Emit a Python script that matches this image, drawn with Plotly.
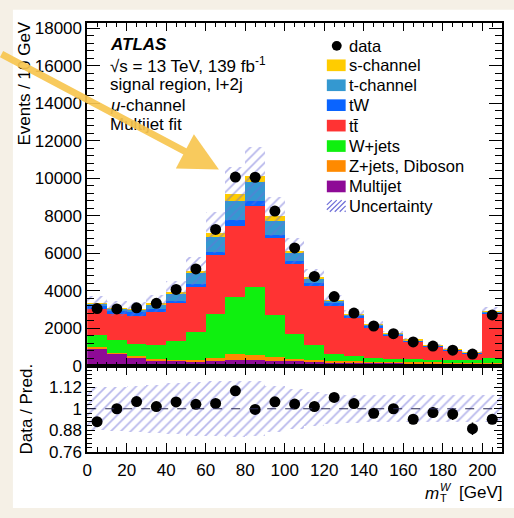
import numpy as np
import plotly.graph_objects as go

# ---------------- data ----------------
bin_edges = list(range(0, 220, 10))
bin_centers = [e + 5 for e in bin_edges[:-1]]
data = [3060, 3040, 3100, 3340, 4080, 5170, 7280, 10070, 10060, 8260, 6290,
        4770, 3700, 2820, 2130, 1720, 1280, 1060, 840, 635, 2720]
multijet = [880, 620, 450, 280, 250, 230, 240, 310, 300, 250, 240,
            200, 180, 160, 150, 140, 130, 130, 120, 110, 100]
zjets = [100, 60, 70, 60, 60, 80, 170, 280, 260, 200, 120,
         90, 70, 60, 50, 40, 40, 35, 30, 30, 40]
wjets = [630, 670, 620, 730, 970, 1470, 2320, 3060, 3640, 2250, 1340,
         810, 370, 260, 200, 160, 150, 145, 150, 140, 250]
ttbar = [1400, 1380, 1520, 1800, 2060, 2430, 3170, 3800, 4290, 4080, 3700,
         3150, 2550, 2070, 1630, 1270, 950, 700, 500, 380, 2380]
tw = [150, 170, 170, 130, 120, 135, 170, 310, 260, 200, 180,
      170, 140, 100, 80, 60, 50, 40, 40, 35, 70]
tchan = [120, 120, 130, 270, 400, 560, 780, 1010, 1040, 750, 430,
         230, 140, 70, 60, 40, 30, 25, 20, 15, 40]
schan = [20, 20, 20, 30, 70, 140, 220, 380, 310, 220, 120,
         60, 30, 20, 15, 10, 10, 8, 6, 5, 10]
unc_rel = [0.12, 0.125, 0.13, 0.136, 0.143, 0.15, 0.155, 0.158, 0.155, 0.13, 0.113,
           0.095, 0.085, 0.078, 0.075, 0.075, 0.075, 0.075, 0.075, 0.075, 0.075]

components = [
    ("Multijet", multijet, "#8e0a96"),
    ("Z+jets, Diboson", zjets, "#ff8a00"),
    ("W+jets", wjets, "#0ff00f"),
    ("t\u0074\u0304", ttbar, "#ff3333"),
    ("tW", tw, "#0a64ff"),
    ("t-channel", tchan, "#3498d0"),
    ("s-channel", schan, "#ffcc00"),
]

W, H = 514, 518
def px(x): return x / W
def py(y): return 1 - y / H

FONT = "Liberation Sans, Arial, Helvetica, sans-serif"
HATCH = "#6e6ed8"

fig = go.Figure()

# stacked histogram
base = np.zeros(len(bin_centers))
for name, vals, col in components:
    v = np.array(vals, dtype=float)
    fig.add_trace(go.Bar(x=bin_centers, y=v, base=base.copy(), width=10,
                         marker=dict(color=col, line=dict(width=0)),
                         showlegend=False, xaxis="x", yaxis="y"))
    base = base + v
total = base
unc = total * np.array(unc_rel)

# uncertainty band (main)
fig.add_trace(go.Bar(x=bin_centers, y=2 * unc, base=total - unc, width=10,
                     marker=dict(color="rgba(0,0,0,0)", line=dict(width=0),
                                 pattern=dict(shape="/", fgcolor=HATCH, bgcolor="rgba(0,0,0,0)",
                                              size=7, solidity=0.24)),
                     showlegend=False, xaxis="x", yaxis="y"))

d = np.array(data, dtype=float)
fig.add_trace(go.Scatter(x=bin_centers, y=d, mode="markers",
                         marker=dict(color="black", size=11),
                         error_y=dict(type="data", array=np.sqrt(d), color="black", thickness=1.5, width=0),
                         showlegend=False, xaxis="x", yaxis="y"))

# ratio panel
ur = np.array(unc_rel)
fig.add_trace(go.Bar(x=bin_centers, y=2 * ur, base=1 - ur, width=10,
                     marker=dict(color="rgba(0,0,0,0)", line=dict(width=0),
                                 pattern=dict(shape="/", fgcolor=HATCH, bgcolor="rgba(0,0,0,0)",
                                              size=7, solidity=0.24)),
                     showlegend=False, xaxis="x2", yaxis="y2"))
ratio = d / total
fig.add_trace(go.Scatter(x=bin_centers, y=ratio, mode="markers",
                         marker=dict(color="black", size=11),
                         error_y=dict(type="data", array=np.sqrt(d) / total, color="black", thickness=1.5, width=0),
                         showlegend=False, xaxis="x2", yaxis="y2"))

fig.add_shape(type="line", x0=0, x1=210, y0=1, y1=1, xref="x2", yref="y2",
              line=dict(color="#2a2a55", width=1.2, dash="dash"))

xdom = [px(83), px(502)]
axis_common = dict(showline=True, linecolor="black", linewidth=1.5, mirror="allticks",
                   ticks="inside", tickcolor="black", tickwidth=1.2,
                   tickfont=dict(family=FONT, size=17, color="black"), showgrid=False, zeroline=False)

fig.update_layout(
    width=W, height=H, margin=dict(l=0, r=0, t=0, b=0),
    paper_bgcolor="#f5f0e6", plot_bgcolor="white",
    barmode="overlay", bargap=0, showlegend=False,
    font=dict(family=FONT, size=17, color="black"),
    xaxis=dict(domain=xdom, range=[0, 210], anchor="y", showticklabels=False,
               dtick=20, tick0=0, ticklen=8,
               minor=dict(ticks="inside", dtick=5, ticklen=4, tickcolor="black"), **axis_common),
    yaxis=dict(domain=[py(372), py(20)], range=[0, 18260], anchor="x",
               dtick=2000, tick0=0, ticklen=13, tickformat="d",
               minor=dict(ticks="inside", dtick=400, ticklen=7, tickcolor="black"), **axis_common),
    xaxis2=dict(domain=xdom, range=[0, 210], anchor="y2",
                dtick=20, tick0=0, ticklen=9, ticklabelstandoff=2,
                minor=dict(ticks="inside", dtick=5, ticklen=5, tickcolor="black"), **axis_common),
    yaxis2=dict(domain=[py(460), py(372)], range=[0.76, 1.24], anchor="x2",
                tickvals=[0.76, 0.88, 1.0, 1.12], ticktext=["0.76", "0.88", "1", "1.12"],
                ticklen=8,
                minor=dict(ticks="inside", dtick=0.024, tick0=0.76, ticklen=5, tickcolor="black"), **axis_common),
)

# white card over beige page
fig.add_shape(type="rect", xref="paper", yref="paper", x0=px(8), x1=1, y0=0, y1=py(6),
              fillcolor="white", line=dict(width=0), layer="below")

ann = []
def text(x, y, s, size=17, xanchor="left", yanchor="middle", angle=0):
    ann.append(dict(x=px(x), y=py(y), xref="paper", yref="paper", text=s, showarrow=False,
                    xanchor=xanchor, yanchor=yanchor, textangle=angle, borderpad=0,
                    font=dict(family=FONT, size=size, color="black")))

# axis titles
text(20, 82, "Events / 10 GeV", xanchor="center", angle=-90)
text(22, 416, "Data / Pred.", xanchor="center", angle=-90)
text(503, 502, "[GeV]", xanchor="right")
text(439, 503, "<i>m</i>", xanchor="right")
text(438, 496, "<i>W</i>", size=11)
text(438, 508, "T", size=11)

# ATLAS labels
text(105, 42, "<b><i>ATLAS</i></b>")
text(105, 63, "\u221As = 13 TeV, 139 fb<sup>-1</sup>")
text(105, 83, "signal region, l+2j")
text(105, 104, "<i>\u03bc</i>-channel")
text(105, 124, "Multijet fit")

# legend (manual)
leg_rows = [("data", 43), ("s-channel", 63), ("t-channel", 83.5), ("tW", 104), ("t\u0074\u0304", 125),
            ("W+jets", 146), ("Z+jets, Diboson", 166.5), ("Multijet", 187.5), ("Uncertainty", 207.5)]
colmap = {c[0]: c[2] for c in components}
for name, yy in leg_rows:
    text(346, yy, name, size=16.5)
    if name == "data":
        fig.add_shape(type="circle", xref="paper", yref="paper",
                      x0=px(330), x1=px(340), y0=py(48), y1=py(38),
                      fillcolor="black", line=dict(width=0))
    elif name == "Uncertainty":
        x0b, x1b, y0b, y1b = 325, 344, yy - 6, yy + 6
        for s in np.arange(x0b - 12, x1b, 5):
            xa, ya, xb, yb = s, y1b, s + 12, y0b
            if xa < x0b:
                ya = y1b - (x0b - xa); xa = x0b
            if xb > x1b:
                yb = y0b + (xb - x1b); xb = x1b
            if xb > xa:
                fig.add_shape(type="line", xref="paper", yref="paper",
                              x0=px(xa), y0=py(ya), x1=px(xb), y1=py(yb),
                              line=dict(color=HATCH, width=1.2))
    else:
        fig.add_shape(type="rect", xref="paper", yref="paper",
                      x0=px(325), x1=px(344), y0=py(yy + 6), y1=py(yy - 6),
                      fillcolor=colmap[name], line=dict(width=0))

# overlay arrow
ann.append(dict(x=px(216), y=py(170), xref="paper", yref="paper", text="",
                showarrow=True, ax=-228, ay=-116, axref="pixel", ayref="pixel",
                arrowhead=2, arrowsize=1.1, arrowwidth=7,
                arrowcolor="rgba(248,198,80,0.92)", standoff=0))

fig.update_layout(annotations=ann)
fig.write_html("out.html")
